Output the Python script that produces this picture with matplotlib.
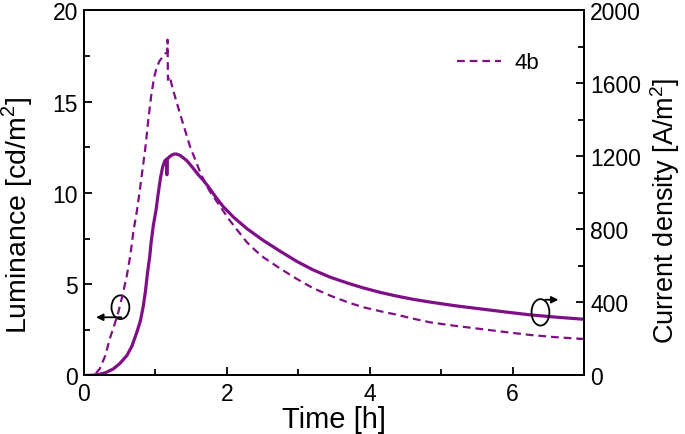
import numpy as np
import matplotlib
matplotlib.use("Agg")
import matplotlib.pyplot as plt
from matplotlib.patches import Ellipse

plt.rcParams['font.family'] = ['Liberation Sans', 'DejaVu Sans']
plt.rcParams['mathtext.fontset'] = 'custom'
plt.rcParams['mathtext.rm'] = 'Liberation Sans'

# luminance (left axis), cd/m2
t_lum = [0, 0.1, 0.2, 0.3, 0.41, 0.5, 0.6, 0.67, 0.74, 0.79, 0.83, 0.86, 0.89, 0.92,
         0.94, 0.97, 1.01, 1.04, 1.07, 1.1, 1.13, 1.155, 1.16, 1.165, 1.2, 1.25, 1.29,
         1.35, 1.44, 1.52, 1.6, 1.67, 1.74, 1.85, 1.95, 2.1, 2.28, 2.51, 2.75, 2.98,
         3.2, 3.45, 3.7, 3.91, 4.15, 4.38, 4.6, 4.85, 5.2, 5.55, 5.9, 6.25, 6.6, 7.0]
lum = [0, 0.01, 0.05, 0.15, 0.36, 0.65, 1.09, 1.6, 2.37, 3.0, 3.8, 4.6, 5.65, 6.5,
       7.3, 8.2, 9.1, 10.0, 10.8, 11.4, 11.75, 11.85, 11.0, 11.85, 12.0, 12.12, 12.14,
       12.05, 11.77, 11.4, 11.0, 10.7, 10.35, 9.75, 9.25, 8.65, 8.05, 7.4, 6.8, 6.25,
       5.8, 5.38, 5.05, 4.8, 4.55, 4.35, 4.18, 4.02, 3.82, 3.65, 3.48, 3.32, 3.2, 3.08]

# current density (right axis), A/m2
t_cur = [0, 0.1, 0.15, 0.22, 0.3, 0.36, 0.42, 0.48, 0.54, 0.6, 0.65, 0.69, 0.74, 0.78,
         0.82, 0.86, 0.9, 0.94, 0.98, 1.02, 1.06, 1.1, 1.14, 1.165, 1.17, 1.175, 1.2,
         1.23, 1.28, 1.34, 1.41, 1.48, 1.55, 1.62, 1.69, 1.76, 1.9, 2.04, 2.16, 2.28,
         2.4, 2.51, 2.75, 2.98, 3.2, 3.45, 3.7, 3.91, 4.15, 4.38, 4.6, 4.85, 5.2, 5.55,
         5.9, 6.25, 6.6, 7.0]
cur = [0, 0, 5, 36, 110, 200, 270, 346, 440, 547, 660, 785, 900, 1010,
       1130, 1250, 1400, 1530, 1630, 1690, 1725, 1745, 1765, 1770, 1840, 1620, 1640,
       1590, 1520, 1440, 1350, 1260, 1190, 1120, 1060, 1010, 930, 850, 790, 730,
       685, 648, 585, 529, 480, 437, 400, 374, 352, 333, 312, 291, 272, 255,
       238, 222, 210, 200]

purple = '#7f0f86'

fig, ax = plt.subplots(figsize=(6.85, 4.35), dpi=100)
fig.subplots_adjust(left=0.1226, right=0.8526, top=0.9736, bottom=0.1345)
ax2 = ax.twinx()

ax.plot(t_lum, lum, color=purple, lw=2.3, zorder=3)
ax2.plot(t_cur, cur, color=purple, lw=1.6, dashes=(3.5, 2.2), label='4b')

ax.set_xlim(0, 7)
ax.set_ylim(0, 20)
ax2.set_ylim(0, 2000)
ax.set_xticks([0, 2, 4, 6])
ax.set_xticks([1, 3, 5], minor=True)
ax.set_yticks([0, 5, 10, 15, 20])
ax.set_yticks([2.5, 7.5, 12.5, 17.5], minor=True)
ax2.set_yticks([0, 400, 800, 1200, 1600, 2000])
ax2.set_yticks([200, 600, 1000, 1400, 1800], minor=True)

for a in (ax, ax2):
    for s in a.spines.values():
        s.set_linewidth(1.4)
    a.tick_params(which='both', direction='in', labelsize=16.5, width=1.3, pad=4.3)
    a.tick_params(which='major', length=6)
    a.tick_params(which='minor', length=4)
ax.tick_params(which='both', top=False, right=False)
ax.tick_params(axis='x', pad=5)
ax2.tick_params(which='both', left=False, right=True, top=False)

ax.set_xlabel('Time [h]', fontsize=21)
ax.set_ylabel('Luminance [cd/m$^2$]', fontsize=20.5)
ax2.set_ylabel('Current density [A/m$^2$]', fontsize=19.5)
ax.xaxis.set_label_coords(0.5, -0.08)
ax.yaxis.set_label_coords(-0.098, 0.44)
ax2.yaxis.set_label_coords(1.128, 0.455)

# left marker: ellipse + arrow to left axis
ax.add_patch(Ellipse((0.51, 3.74), 0.25, 1.3, fill=False, lw=1.3, color='black', zorder=5))
ax.annotate('', xy=(0.13, 3.19), xytext=(0.56, 3.19),
            arrowprops=dict(arrowstyle='-|>', color='black', lw=1.3, mutation_scale=10))
# right marker: ellipse + arrow to right axis
ax.add_patch(Ellipse((6.39, 3.46), 0.25, 1.45, fill=False, lw=1.3, color='black', zorder=5))
ax.annotate('', xy=(6.68, 4.15), xytext=(6.42, 4.15),
            arrowprops=dict(arrowstyle='-|>', color='black', lw=1.3, mutation_scale=10))

ax2.legend(loc='upper right', bbox_to_anchor=(0.95, 0.94), frameon=False, fontsize=16,
           handlelength=2.0, handletextpad=0.6)

fig.savefig('out.png', dpi=100)
